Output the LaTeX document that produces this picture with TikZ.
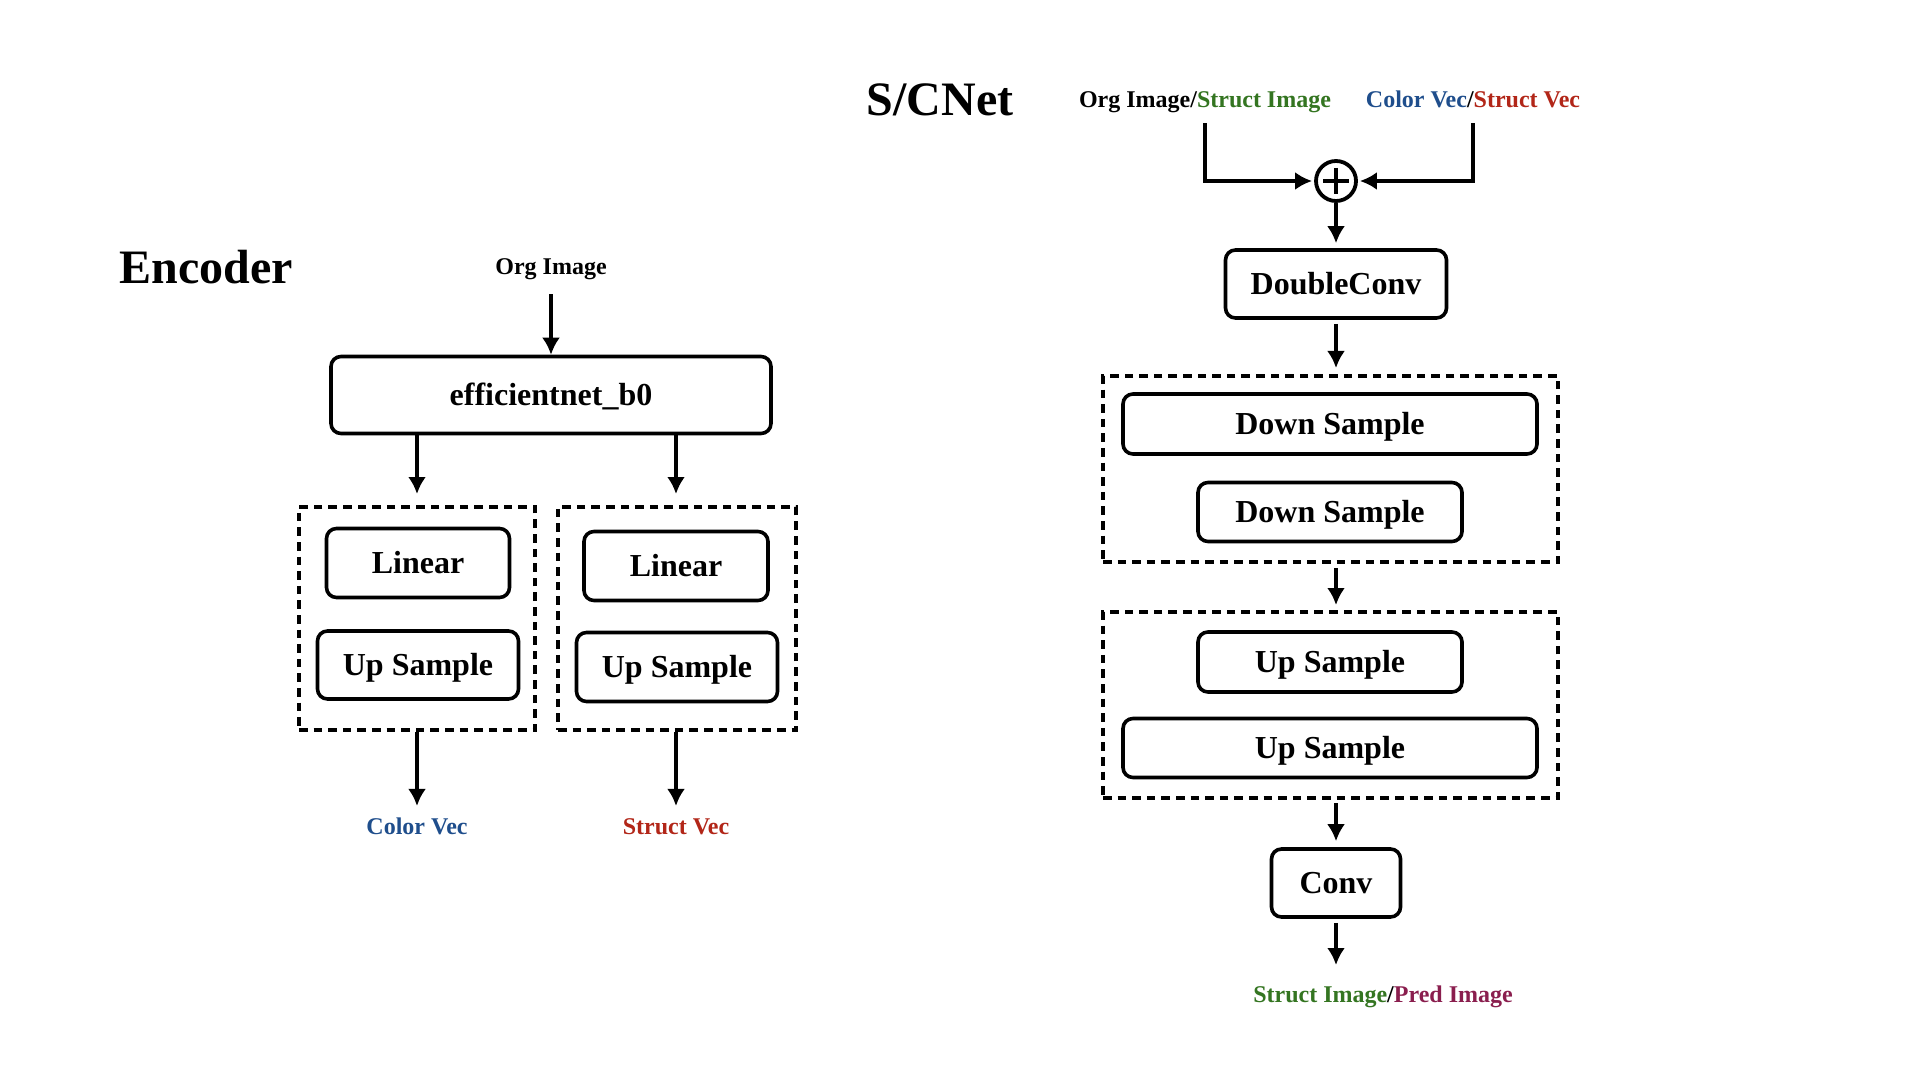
\documentclass[tikz,border=0pt]{standalone}
\usepackage{fontspec}
\setmainfont{Liberation Serif}
\usetikzlibrary{arrows.meta}

\definecolor{vecblue}{RGB}{31,78,140}
\definecolor{vecred}{RGB}{178,38,24}
\definecolor{imggreen}{RGB}{52,117,33}
\definecolor{predpurple}{RGB}{138,30,78}

\begin{document}
\begin{tikzpicture}[x=0.5pt, y=-0.5pt, >={Latex[length=8.5pt,width=9pt]},
  block/.style={draw, line width=1.8pt, rounded corners=5pt, text height=10.8pt, text depth=0pt,
    font=\fontsize{16}{19}\selectfont\bfseries},
  dashbox/.style={draw, line width=2pt, dash pattern=on 4.3pt off 3pt},
  tag/.style={text height=8pt, text depth=0pt, font=\fontsize{12}{14}\selectfont\bfseries},
  title/.style={font=\fontsize{24}{28}\selectfont\bfseries},
  flow/.style={->, line width=1.9pt}]
  \fill[white] (0,0) rectangle (1920,1080);
  \useasboundingbox (0,0) rectangle (1920,1080);

  % encoder
  \node[title] (enc) at (206,267) {Encoder};
  \node[tag] (orgin) at (551,267) {Org Image};
  \node[block, minimum width=220pt, minimum height=38.5pt] (eff) at (551,395) {efficientnet\_b0};
  \node[dashbox, minimum width=118pt, minimum height=111.5pt] (grpL) at (417,618.5) {};
  \node[dashbox, minimum width=119pt, minimum height=111.5pt] (grpR) at (677,618.5) {};
  \node[block, minimum width=91.5pt, minimum height=34.5pt] (linL) at (418,563) {Linear};
  \node[block, minimum width=100.5pt, minimum height=34pt] (upL) at (418,665) {Up Sample};
  \node[block, minimum width=92pt, minimum height=34.5pt] (linR) at (676,566) {Linear};
  \node[block, minimum width=100.5pt, minimum height=34.5pt] (upR) at (677,667) {Up Sample};
  \node[tag, text=vecblue] (colvec) at (417,826) {Color Vec};
  \node[tag, text=vecred] (strvec) at (676,826) {Struct Vec};

  \draw[flow, shorten <=6pt] (orgin.south) -- (eff.north);
  \draw[flow, shorten >=5.5pt] (eff.south -| colvec) -- (grpL.north -| colvec);
  \draw[flow, shorten >=5.5pt] (eff.south -| strvec) -- (grpR.north -| strvec);
  \draw[flow, shorten >=2.5pt] (grpL.south -| colvec) -- (colvec.north);
  \draw[flow, shorten >=2.5pt] (grpR.south -| strvec) -- (strvec.north);

  % s/cnet
  \node[title] (scnet) at (940,100) {S/CNet};
  \node[tag] (imgin) at (1205,100) {Org Image/\textcolor{imggreen}{Struct Image}};
  \node[tag] (vecin) at (1473,100) {\textcolor{vecblue}{Color Vec}/\textcolor{vecred}{Struct Vec}};
  \node[draw, circle, line width=1.9pt, minimum size=20pt, inner sep=0pt] (plus) at (1336,181) {};
  \draw[line width=1.6pt] (plus.center) ++(-13,0) -- ++(26,0);
  \draw[line width=1.6pt] (plus.center) ++(0,-13) -- ++(0,26);
  \node[block, minimum width=110.5pt, minimum height=34pt] (dbl) at (1336,284) {DoubleConv};
  \node[dashbox, minimum width=227.5pt, minimum height=93pt] (grpD) at (1330.5,469) {};
  \node[block, minimum width=207pt, minimum height=30pt] (ds1) at (1330,424) {Down Sample};
  \node[block, minimum width=132pt, minimum height=29.5pt] (ds2) at (1330,512) {Down Sample};
  \node[dashbox, minimum width=227.5pt, minimum height=93pt] (grpU) at (1330.5,705) {};
  \node[block, minimum width=132pt, minimum height=30pt] (us1) at (1330,662) {Up Sample};
  \node[block, minimum width=207pt, minimum height=29.5pt] (us2) at (1330,748) {Up Sample};
  \node[block, minimum width=64.5pt, minimum height=34pt] (conv) at (1336,883) {Conv};
  \node[tag] (pred) at (1383,994) {\textcolor{imggreen}{Struct Image}/\textcolor{predpurple}{Pred Image}};
  \coordinate (out) at (1336,965);

  \draw[flow, shorten <=4pt, shorten >=1pt] (imgin.south) |- (plus.west);
  \draw[flow, shorten <=4pt, shorten >=1pt] (vecin.south) |- (plus.east);
  \draw[flow, shorten >=2.5pt] (plus.south) -- (dbl.north);
  \draw[flow, shorten <=2pt, shorten >=3pt] (dbl.south) -- (dbl.south |- grpD.north);
  \draw[flow, shorten <=2pt, shorten >=2.5pt] (dbl.south |- grpD.south) -- (dbl.south |- grpU.north);
  \draw[flow, shorten <=1.5pt, shorten >=3pt] (dbl.south |- grpU.south) -- (conv.north);
  \draw[flow, shorten <=2pt] (conv.south) -- (out);
\end{tikzpicture}
\end{document}
